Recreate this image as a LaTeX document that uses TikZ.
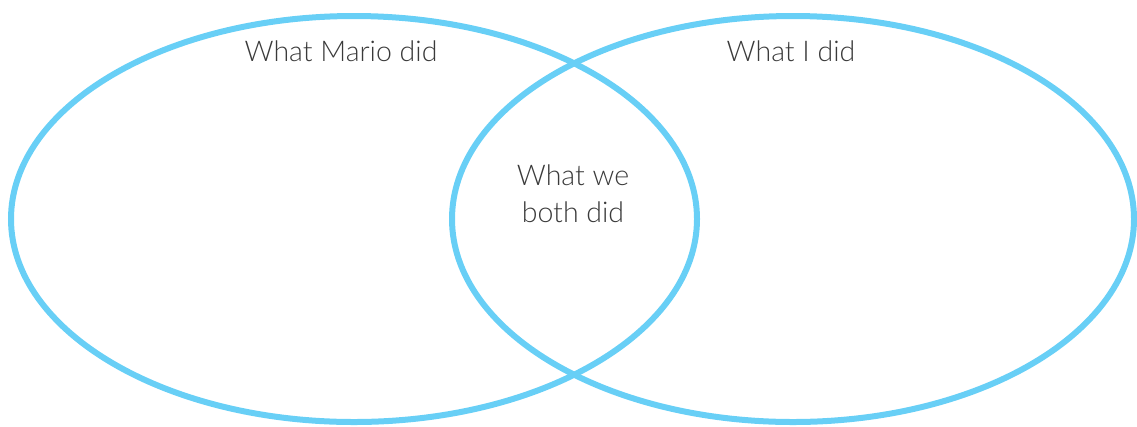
\documentclass[tikz,border=0pt]{standalone}
\usepackage{fontspec}
\setmainfont{Lato}[UprightFont=* Light]
\definecolor{vblue}{HTML}{68CFF6}
\definecolor{vtext}{HTML}{3A3A3A}
\begin{document}
\begin{tikzpicture}[x=0.75pt,y=-0.75pt,
  ring/.style={draw=vblue,line width=4.5pt},
  lbl/.style={text=vtext,font=\fontsize{21.4}{27.5}\selectfont,align=center,inner sep=0pt}]
\useasboundingbox (0,0) rectangle (1137,426);
\draw[ring] (354,219) ellipse [x radius=343, y radius=203];
\draw[ring] (793,219) ellipse [x radius=341, y radius=203];
\node[lbl] (mario) at (341,51) {What Mario did};
\node[lbl] (me) at (791,51) {What I did};
\node[lbl] (both) at (573,194) {What we\\both did};
\end{tikzpicture}
\end{document}
